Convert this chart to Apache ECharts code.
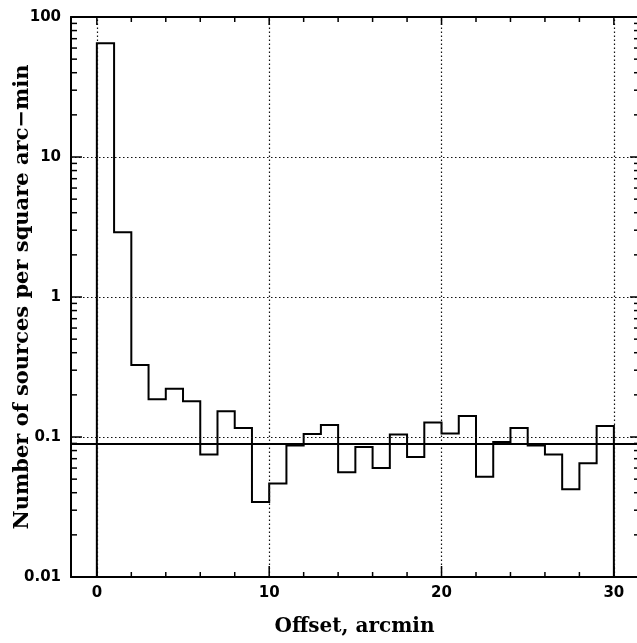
<!DOCTYPE html>
<html>
<head>
<meta charset="utf-8">
<title>Source density vs offset</title>
<script src="https://cdn.jsdelivr.net/npm/echarts@6.0.0/dist/echarts.min.js"></script>
<style>
  html, body { margin: 0; padding: 0; background: #fff; }
  #chart { width: 637px; height: 643px; }
</style>
</head>
<body>
<div id="chart"></div>
<script>
// Histogram bin edges (arcmin) and source density per square arc-min in each bin
const binEdges = [0, 1, 2, 3, 4, 5, 6, 7, 8, 9, 10, 11, 12, 13, 14, 15,
                  16, 17, 18, 19, 20, 21, 22, 23, 24, 25, 26, 27, 28, 29, 30];
const density = [65, 2.9, 0.327, 0.186, 0.221, 0.180, 0.075, 0.153, 0.116, 0.0343,
                 0.0466, 0.087, 0.105, 0.122, 0.056, 0.085, 0.060, 0.104, 0.072, 0.127,
                 0.106, 0.141, 0.052, 0.092, 0.116, 0.087, 0.075, 0.0423, 0.065, 0.120];
// Mean background density level
const backgroundLevel = 0.0887;

// Axis ticks and labels
const xMajorTicks = [0, 10, 20, 30];
const xMinorTicks = [2, 4, 6, 8, 12, 14, 16, 18, 22, 24, 26, 28];
const yMajorTicks = [0.01, 0.1, 1, 10, 100];
const yTickLabels = ['0.01', '0.1', '1', '10', '100'];
const yMinorTicks = [0.02, 0.03, 0.04, 0.05, 0.06, 0.07, 0.08, 0.09,
                     0.2, 0.3, 0.4, 0.5, 0.6, 0.7, 0.8, 0.9,
                     2, 3, 4, 5, 6, 7, 8, 9,
                     20, 30, 40, 50, 60, 70, 80, 90];
const xGridLines = [0, 10, 20, 30];
const yGridLines = [0.1, 1, 10];

const xMin = -1.5, xMax = 31.4;
const yMin = 0.01, yMax = 100;

// Step outline of the histogram, closed down to the axis floor at both ends
const outline = [[binEdges[0], yMin]];
density.forEach((v, i) => {
  outline.push([binEdges[i], v]);
  outline.push([binEdges[i + 1], v]);
});
outline.push([binEdges[binEdges.length - 1], yMin]);

const ink = '#000';
const tickFont = { fontFamily: 'DejaVu Sans', fontWeight: 'bold', fontSize: 15, color: ink };
const titleFont = { fontFamily: 'DejaVu Serif', fontWeight: 'bold', fontSize: 20, color: ink };
const dotted = { color: '#111', width: 1.2, type: [1.5, 2.5] };
const tickStyle = { stroke: ink, lineWidth: 1.5 };

// Inward tick marks on both opposite frame edges: x ticks on bottom/top, y ticks on left/right
function xTickSeries(values, lenBottom, lenTop) {
  return {
    type: 'custom', xAxisIndex: 0, yAxisIndex: 0, silent: true, z: 5,
    data: values.map(v => [v, yMin]),
    renderItem: (params, api) => {
      const cs = params.coordSys;
      const px = api.coord([api.value(0), yMin])[0];
      const bottom = cs.y + cs.height, top = cs.y;
      return {
        type: 'group',
        children: [
          { type: 'line', shape: { x1: px, y1: bottom, x2: px, y2: bottom - lenBottom }, style: tickStyle },
          { type: 'line', shape: { x1: px, y1: top, x2: px, y2: top + lenTop }, style: tickStyle }
        ]
      };
    }
  };
}
function yTickSeries(values, lenLeft, lenRight) {
  return {
    type: 'custom', xAxisIndex: 0, yAxisIndex: 0, silent: true, z: 5,
    data: values.map(v => [xMin, v]),
    renderItem: (params, api) => {
      const cs = params.coordSys;
      const py = api.coord([xMin, api.value(1)])[1];
      const left = cs.x, right = cs.x + cs.width;
      return {
        type: 'group',
        children: [
          { type: 'line', shape: { x1: left, y1: py, x2: left + lenLeft, y2: py }, style: tickStyle },
          { type: 'line', shape: { x1: right, y1: py, x2: right - lenRight, y2: py }, style: tickStyle }
        ]
      };
    }
  };
}

const chart = echarts.init(document.getElementById('chart'), null, { renderer: 'canvas' });
chart.setOption({
  animation: false,
  backgroundColor: '#fff',
  grid: {
    left: 71, top: 17, width: 567, height: 560,
    containLabel: false, outerBoundsMode: 'none'
  },
  xAxis: [{
    type: 'value', min: xMin, max: xMax,
    name: 'Offset, arcmin', nameLocation: 'middle', nameGap: 40, nameTextStyle: titleFont,
    nameMoveOverlap: false,
    axisLine: { show: true, onZero: false, lineStyle: { color: ink, width: 2 } },
    axisTick: { show: false },
    axisLabel: Object.assign({ show: true, margin: 9, customValues: xMajorTicks }, tickFont),
    splitLine: { show: false }
  }, {
    type: 'value', min: xMin, max: xMax, position: 'top',
    axisLine: { show: true, onZero: false, lineStyle: { color: ink, width: 2 } },
    axisTick: { show: false }, axisLabel: { show: false }, splitLine: { show: false }
  }],
  yAxis: [{
    type: 'log', logBase: 10, min: yMin, max: yMax,
    name: 'Number of sources per square arc\u2212min', nameLocation: 'middle', nameGap: 38,
    nameMoveOverlap: false,
    nameTextStyle: Object.assign({}, titleFont, { fontSize: 21 }),
    axisLine: { show: true, onZero: false, lineStyle: { color: ink, width: 2 } },
    axisTick: { show: false },
    axisLabel: Object.assign({
      show: true, margin: 10, customValues: yMajorTicks,
      formatter: v => {
        const k = yMajorTicks.findIndex(t => Math.abs(Math.log10(t) - Math.log10(v)) < 1e-6);
        return k >= 0 ? yTickLabels[k] : '';
      }
    }, tickFont),
    splitLine: { show: false }
  }, {
    type: 'log', logBase: 10, min: yMin, max: yMax, position: 'right',
    axisLine: { show: true, onZero: false, lineStyle: { color: ink, width: 2 } },
    axisTick: { show: false }, axisLabel: { show: false }, splitLine: { show: false }
  }],
  series: [
    {
      // dotted grid
      type: 'line', data: [], xAxisIndex: 0, yAxisIndex: 0, silent: true, z: 1,
      markLine: {
        silent: true, symbol: 'none', label: { show: false },
        lineStyle: dotted,
        data: xGridLines.map(v => ({ xAxis: v })).concat(yGridLines.map(v => ({ yAxis: v })))
      }
    },
    {
      // background density level
      type: 'line', data: [], xAxisIndex: 0, yAxisIndex: 0, silent: true, z: 3,
      markLine: {
        silent: true, symbol: 'none', label: { show: false },
        lineStyle: { color: ink, width: 2, type: 'solid' },
        data: [{ yAxis: backgroundLevel }]
      }
    },
    {
      // histogram outline
      type: 'line', data: outline, xAxisIndex: 0, yAxisIndex: 0, z: 4,
      showSymbol: false, symbol: 'none', silent: true,
      lineStyle: { color: ink, width: 2, join: 'miter' }
    },
    xTickSeries(xMajorTicks, 11, 8),
    xTickSeries(xMinorTicks, 5, 5),
    yTickSeries(yMajorTicks, 11, 8),
    yTickSeries(yMinorTicks, 6, 4)
  ]
});
</script>
</body>
</html>
